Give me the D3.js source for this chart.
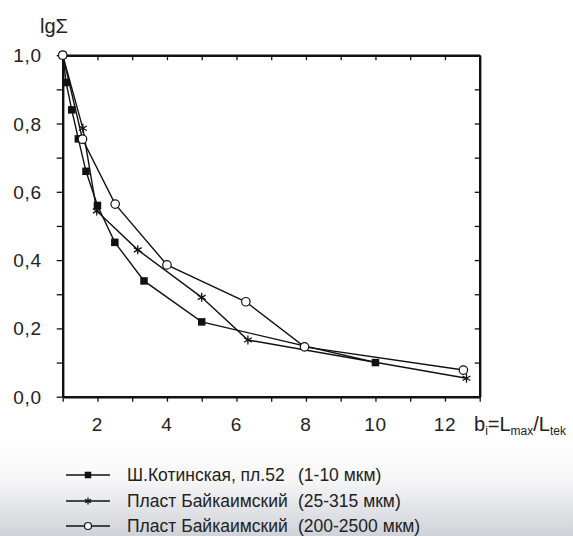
<!DOCTYPE html>
<html lang="ru">
<head>
    <meta charset="UTF-8">
    <script src="https://cdn.jsdelivr.net/npm/d3@7"></script>
    <title>lg sum</title>
    <style>
        body { margin: 0; background: #fff; }
        svg text { font-family: "Liberation Sans", Arial, sans-serif; fill: #222; }
    </style>
</head>
<body>
<script>
    // данные серий
    let kotX = [1, 1.1, 1.26, 1.45, 1.67, 2.0, 2.5, 3.34, 5.0, 10.0];
    let kotY = [1.0, 0.92, 0.84, 0.755, 0.66, 0.56, 0.452, 0.339, 0.219, 0.1];
    let baiSmallX = [1, 1.58, 1.98, 3.16, 5.0, 6.33, 12.62];
    let baiSmallY = [1.0, 0.786, 0.544, 0.43, 0.291, 0.166, 0.054];
    let baiBigX = [1, 1.57, 2.51, 4.0, 6.27, 7.96, 12.53];
    let baiBigY = [1.0, 0.754, 0.564, 0.386, 0.278, 0.146, 0.078];

    let seriesNames = ["Ш.Котинская, пл.52", "Пласт Байкаимский", "Пласт Байкаимский"];
    let seriesRanges = ["(1-10 мкм)", "(25-315 мкм)", "(200-2500 мкм)"];
    let xTickLabels = [2, 4, 6, 8, 10, 12];
    let yTickLabels = ["0,0", "0,2", "0,4", "0,6", "0,8", "1,0"];

    let width = 573, height = 536;

    let svg = d3.select("body").append("svg")
        .attr("width", width)
        .attr("height", height);

    // фон с серым градиентом снизу
    let defs = svg.append("defs");
    let grad = defs.append("linearGradient")
        .attr("id", "bg").attr("x1", 0).attr("y1", 0).attr("x2", 0).attr("y2", 1);
    grad.append("stop").attr("offset", "0%").attr("stop-color", "#ffffff");
    grad.append("stop").attr("offset", "40%").attr("stop-color", "#f7f7f8");
    grad.append("stop").attr("offset", "100%").attr("stop-color", "#cfd2d8");
    svg.append("rect").attr("x", 0).attr("y", 440).attr("width", width).attr("height", 96)
        .attr("fill", "url(#bg)");

    let x = d3.scaleLinear().domain([1, 13]).range([62.7, 479.7]);
    let y = d3.scaleLinear().domain([0, 1]).range([396.7, 55.2]);

    let xTicks = d3.range(1, 14);
    let yTicks = d3.range(0, 11).map(d => d / 10);

    // оси
    let gB = svg.append("g").attr("transform", "translate(0," + y(0) + ")")
        .call(d3.axisBottom(x).tickValues(xTicks).tickSize(5).tickSizeOuter(0).tickFormat(""));
    let gT = svg.append("g").attr("transform", "translate(0," + y(1) + ")")
        .call(d3.axisBottom(x).tickValues(xTicks).tickSize(5).tickSizeOuter(0).tickFormat(""));
    let gL = svg.append("g").attr("transform", "translate(" + x(1) + ",0)")
        .call(d3.axisLeft(y).tickValues(yTicks).tickSize(6).tickSizeOuter(0).tickFormat(""));
    let gR = svg.append("g").attr("transform", "translate(" + x(13) + ",0)")
        .call(d3.axisLeft(y).tickValues(yTicks).tickSize(5).tickSizeOuter(0).tickFormat(""));

    [gB, gT, gL, gR].forEach(g => {
        g.select(".domain").attr("stroke", "#111").attr("stroke-width", 2.4);
        g.selectAll(".tick line").attr("stroke", "#111").attr("stroke-width", 1.3);
    });

    // подписи делений
    svg.selectAll(".xlab").data(xTickLabels).enter().append("text")
        .attr("class", "xlab")
        .attr("x", d => x(d))
        .attr("y", 431)
        .attr("text-anchor", "middle")
        .attr("font-size", 19)
        .attr("letter-spacing", 0.6)
        .text(d => d);

    svg.selectAll(".ylab").data(yTickLabels).enter().append("text")
        .attr("class", "ylab")
        .attr("x", 42)
        .attr("y", (d, i) => y(i * 0.2) + 7)
        .attr("text-anchor", "end")
        .attr("font-size", 19)
        .attr("letter-spacing", 0.8)
        .text(d => d);

    // подписи осей
    svg.append("text").attr("x", 40).attr("y", 33).attr("font-size", 20).text("lgΣ");

    let xl = svg.append("text").attr("x", 474).attr("y", 431).attr("font-size", 20);
    xl.append("tspan").text("b");
    xl.append("tspan").attr("font-size", 12).attr("dy", 4).text("i");
    xl.append("tspan").attr("dy", -4).text("=L");
    xl.append("tspan").attr("font-size", 12).attr("dy", 4).text("max");
    xl.append("tspan").attr("dy", -4).text("/L");
    xl.append("tspan").attr("font-size", 12).attr("dy", 4).text("tek");

    // маркеры
    function marker(g, type, cx, cy, s) {
        if (type === 0) {
            g.append("rect").attr("x", cx - s / 2).attr("y", cy - s / 2)
                .attr("width", s).attr("height", s).attr("fill", "#111");
        } else if (type === 1) {
            let r = s / 2, a = r * 0.87, b = r * 0.5;
            g.append("path")
                .attr("d", "M" + cx + "," + (cy - r) + "L" + cx + "," + (cy + r) +
                    "M" + (cx - a) + "," + (cy - b) + "L" + (cx + a) + "," + (cy + b) +
                    "M" + (cx - a) + "," + (cy + b) + "L" + (cx + a) + "," + (cy - b))
                .attr("stroke", "#111").attr("stroke-width", 1.3).attr("fill", "none");
        } else {
            g.append("circle").attr("cx", cx).attr("cy", cy).attr("r", s / 2)
                .attr("fill", "#fff").attr("stroke", "#111").attr("stroke-width", 1.2);
        }
    }

    let series = [
        {xs: kotX, ys: kotY, size: 7.5},
        {xs: baiSmallX, ys: baiSmallY, size: 9},
        {xs: baiBigX, ys: baiBigY, size: 8.5}
    ];

    let line = d3.line().x(d => x(d[0])).y(d => y(d[1]));

    series.forEach((s, k) => {
        let pts = s.xs.map((v, i) => [v, s.ys[i]]);
        svg.append("path").attr("d", line(pts))
            .attr("fill", "none").attr("stroke", "#111").attr("stroke-width", 1.4);
    });
    series.forEach((s, k) => {
        let g = svg.append("g");
        s.xs.forEach((v, i) => marker(g, k, x(v), y(s.ys[i]), s.size));
    });

    // легенда
    let legY = [475, 501, 526];
    seriesNames.forEach((name, k) => {
        let g = svg.append("g");
        g.append("line").attr("x1", 66).attr("x2", 110).attr("y1", legY[k]).attr("y2", legY[k])
            .attr("stroke", "#111").attr("stroke-width", 1.3);
        marker(g, k, 88, legY[k], k === 0 ? 6.5 : 7);
        g.append("text").attr("x", 127).attr("y", legY[k] + 6).attr("font-size", 17.5).text(name);
        g.append("text").attr("x", 298).attr("y", legY[k] + 6).attr("font-size", 17.5).text(seriesRanges[k]);
    });
</script>
</body>
</html>
